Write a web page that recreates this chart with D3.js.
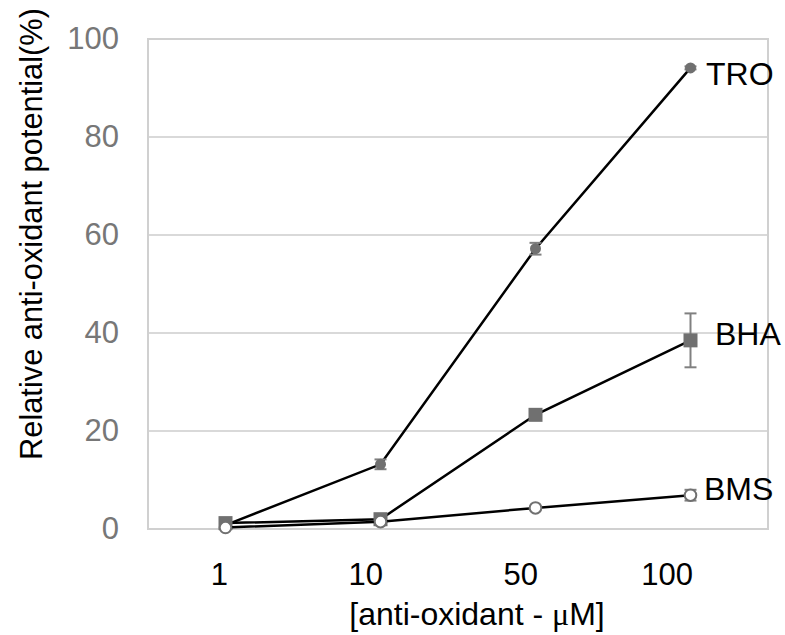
<!DOCTYPE html>
<html>
<head>
<meta charset="utf-8">
<script src="https://cdn.jsdelivr.net/npm/d3@7"></script>
<style>
  body { margin: 0; background: #fff; }
  text { font-family: Arial, "Liberation Sans", sans-serif; }
</style>
</head>
<body>
<div id="chart"></div>
<script>
// data
const categories = ["1", "10", "50", "100"];
const troValues = [0.8, 13.2, 57.2, 94.1];
const troErr = [0.3, 1.0, 1.2, 0.3];
const bhaValues = [1.2, 2.0, 23.3, 38.5];
const bhaErr = [0.3, 0.5, 0.6, 5.5];
const bmsValues = [0.3, 1.5, 4.3, 6.9];
const bmsErr = [0.2, 0.3, 0.3, 1.1];
const yTicks = [0, 20, 40, 60, 80, 100];

const canvas = { w: 785, h: 635 };
const plot = { left: 148, right: 768, top: 39, bottom: 529 };
const grey = "#707070";

const svg = d3.select("#chart")
    .append("svg")
    .attr("width", canvas.w)
    .attr("height", canvas.h);

const x = d3.scalePoint()
    .domain(categories)
    .range([plot.left, plot.right])
    .padding(0.5);

const y = d3.scaleLinear()
    .domain([0, 100])
    .range([plot.bottom, plot.top]);

// gridlines
svg.append("g")
    .selectAll("line")
    .data(yTicks)
    .join("line")
    .attr("x1", plot.left)
    .attr("x2", plot.right)
    .attr("y1", d => y(d))
    .attr("y2", d => y(d))
    .attr("stroke", "#d9d9d9")
    .attr("stroke-width", 2);

// plot border
svg.append("rect")
    .attr("x", plot.left)
    .attr("y", plot.top)
    .attr("width", plot.right - plot.left)
    .attr("height", plot.bottom - plot.top)
    .attr("fill", "none")
    .attr("stroke", "#d0d0d0")
    .attr("stroke-width", 2);

// y axis
const yAxis = svg.append("g")
    .attr("transform", `translate(${plot.left},0)`)
    .call(d3.axisLeft(y).tickValues(yTicks).tickSize(0).tickPadding(29));
yAxis.select(".domain").remove();
yAxis.selectAll("text")
    .attr("font-size", 31)
    .attr("fill", "#777")
    .attr("font-family", "Arial, 'Liberation Sans', sans-serif");

// x axis (labels sit right-aligned on the category position)
const xAxis = svg.append("g")
    .attr("transform", `translate(0,${plot.bottom})`)
    .call(d3.axisBottom(x).tickSize(0));
xAxis.select(".domain").remove();
xAxis.selectAll("text")
    .attr("font-size", 31)
    .attr("fill", "#000")
    .attr("font-family", "Arial, 'Liberation Sans', sans-serif")
    .attr("text-anchor", "end")
    .attr("dx", 2)
    .attr("dy", null)
    .attr("y", 56);

// axis titles
svg.append("text")
    .attr("transform", `translate(42,${(13 + 455) / 2}) rotate(-90)`)
    .attr("text-anchor", "middle")
    .attr("font-size", 30.8)
    .attr("fill", "#000")
    .text("Relative anti-oxidant potential(%)");

const xt = svg.append("text")
    .attr("x", 477)
    .attr("y", 625)
    .attr("text-anchor", "middle")
    .attr("font-size", 32)
    .attr("fill", "#000");
xt.append("tspan").text("[anti-oxidant - ");
xt.append("tspan").attr("font-family", "'Liberation Serif', 'DejaVu Serif', serif").text("\u03bc");
xt.append("tspan").text("M]");

const series = [
    { name: "TRO", values: troValues, err: troErr, shape: "dot", lx: 706, ly: 85 },
    { name: "BHA", values: bhaValues, err: bhaErr, shape: "square", lx: 715, ly: 345 },
    { name: "BMS", values: bmsValues, err: bmsErr, shape: "open", lx: 704, ly: 500 }
];

const line = d3.line()
    .x((d, i) => x(categories[i]))
    .y(d => y(d));

series.forEach(s => {
    const g = svg.append("g");
    const pts = s.values.map((v, i) => ({ cat: categories[i], v: v, e: s.err[i] }));

    g.append("path")
        .attr("d", line(s.values))
        .attr("fill", "none")
        .attr("stroke", "#000")
        .attr("stroke-width", 2.5);

    // error bars
    const eb = g.append("g").attr("stroke", "#808080").attr("stroke-width", 2);
    eb.selectAll(".v").data(pts).join("line")
        .attr("x1", d => x(d.cat)).attr("x2", d => x(d.cat))
        .attr("y1", d => y(d.v - d.e)).attr("y2", d => y(d.v + d.e));
    eb.selectAll(".t").data(pts).join("line")
        .attr("x1", d => x(d.cat) - 6).attr("x2", d => x(d.cat) + 6)
        .attr("y1", d => y(d.v + d.e)).attr("y2", d => y(d.v + d.e));
    eb.selectAll(".b").data(pts).join("line")
        .attr("x1", d => x(d.cat) - 6).attr("x2", d => x(d.cat) + 6)
        .attr("y1", d => y(d.v - d.e)).attr("y2", d => y(d.v - d.e));

    if (s.shape === "square") {
        g.selectAll("rect").data(pts).join("rect")
            .attr("x", d => x(d.cat) - 7)
            .attr("y", d => y(d.v) - 7)
            .attr("width", 14)
            .attr("height", 14)
            .attr("fill", grey);
    } else {
        g.selectAll("circle").data(pts).join("circle")
            .attr("cx", d => x(d.cat))
            .attr("cy", d => y(d.v))
            .attr("r", s.shape === "dot" ? 5.5 : 5.8)
            .attr("fill", s.shape === "dot" ? grey : "#fff")
            .attr("stroke", grey)
            .attr("stroke-width", s.shape === "dot" ? 0 : 2);
    }

    svg.append("text")
        .attr("x", s.lx)
        .attr("y", s.ly)
        .attr("font-size", 32)
        .attr("fill", "#000")
        .text(s.name);
});
</script>
</body>
</html>
